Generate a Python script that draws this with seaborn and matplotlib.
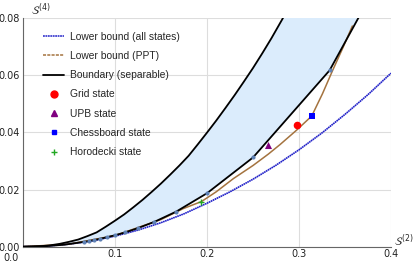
import numpy as np
import matplotlib
matplotlib.use("Agg")
import matplotlib.pyplot as plt
import matplotlib.transforms as mtrans
from matplotlib.lines import Line2D
import seaborn as sns

# upper boundary of the separable region
upper_x = [0.0, 0.01, 0.02, 0.03, 0.04, 0.05, 0.06, 0.07, 0.08, 0.09, 0.10, 0.11, 0.12, 0.13, 0.14,
           0.15, 0.16, 0.17, 0.18, 0.19, 0.20, 0.21, 0.22, 0.23, 0.24, 0.25, 0.26, 0.27, 0.2826]
upper_y = [0.0, 0.00005, 0.0002, 0.0005, 0.0010, 0.0017, 0.0025, 0.0037, 0.0050, 0.0070, 0.0091, 0.0113,
           0.0138, 0.0164, 0.0192, 0.0221, 0.0252, 0.0284, 0.0318, 0.0358, 0.0399, 0.0441, 0.0485,
           0.0530, 0.0577, 0.0625, 0.0676, 0.0729, 0.0800]

# lower boundary of the separable region
lower_x = [0.0, 0.025, 0.045, 0.0667, 0.0714, 0.0769, 0.0833, 0.0909, 0.1, 0.1111, 0.125,
           0.1429, 0.1667, 0.2, 0.25, 0.3333, 0.3645]
lower_y = [0.0, 0.0002, 0.0007, 0.0017, 0.0019, 0.0023, 0.0027, 0.0033, 0.0040, 0.0050, 0.0065,
           0.0087, 0.0123, 0.0187, 0.0312, 0.0617, 0.0800]

# points sitting on the lower boundary
dot_x = [0.0667, 0.0714, 0.0769, 0.0833, 0.0909, 0.1, 0.1111, 0.125, 0.1429, 0.1667, 0.2, 0.25, 0.3333]
dot_y = [0.0017, 0.0019, 0.0023, 0.0027, 0.0033, 0.0040, 0.0050, 0.0065, 0.0087, 0.0123, 0.0187, 0.0312, 0.0617]

# lower bound (all states)
all_x = [0.0, 0.025, 0.05, 0.075, 0.10, 0.125, 0.15, 0.175, 0.20, 0.225, 0.25, 0.275, 0.30,
         0.325, 0.35, 0.375, 0.40]
all_y = [0.0, 0.0002, 0.0009, 0.0020, 0.0037, 0.0058, 0.0084, 0.0115, 0.0152, 0.0192, 0.0236,
         0.0285, 0.0339, 0.0398, 0.0463, 0.0532, 0.0607]

# lower bound (PPT)
ppt_x = [0.0, 0.05, 0.10, 0.15, 0.174, 0.194, 0.21, 0.2286, 0.25, 0.2667, 0.2793, 0.2975,
         0.3138, 0.3255, 0.3366, 0.348, 0.358]
ppt_y = [0.0, 0.0009, 0.0039, 0.0095, 0.0133, 0.0158, 0.0192, 0.0238, 0.0284, 0.0324, 0.0357, 0.0408,
         0.0457, 0.0535, 0.0617, 0.0698, 0.0772]

# states
grid_pt = (0.2975, 0.0427)
upb_pt = (0.2667, 0.0357)
chess_pt = (0.3138, 0.0457)
horo_pt = (0.194, 0.0158)

BLUE = "#2020c8"
BROWN = "#a4733f"
FILL = "#dbecfc"
DOTS = "#5e81b5"

sns.set_style("white")
plt.rcParams["font.family"] = ["DejaVu Sans"]

fig = plt.figure(figsize=(4.15, 2.63), dpi=100)
ax = fig.add_axes([0.0554, 0.062, 0.8868, 0.8696])

ax.fill(np.concatenate([upper_x, lower_x[::-1]]), np.concatenate([upper_y, lower_y[::-1]]),
        color=FILL, lw=0, zorder=1)

sns.lineplot(x=all_x, y=all_y, sort=False, estimator=None, color=BLUE, lw=1.2,
             linestyle=(0, (1.0, 0.3)), ax=ax, zorder=3)
sns.lineplot(x=ppt_x, y=ppt_y, sort=False, estimator=None, color=BROWN, lw=1.1, ax=ax, zorder=3)
sns.lineplot(x=upper_x, y=upper_y, sort=False, estimator=None, color="black", lw=1.3, ax=ax, zorder=4)
sns.lineplot(x=lower_x, y=lower_y, sort=False, estimator=None, color="black", lw=1.3, ax=ax, zorder=4)
sns.scatterplot(x=dot_x, y=dot_y, color=DOTS, s=9, linewidth=0, ax=ax, zorder=5)

sns.scatterplot(x=[grid_pt[0]], y=[grid_pt[1]], color="red", marker="o", s=30, linewidth=0, ax=ax, zorder=6)
sns.scatterplot(x=[upb_pt[0]], y=[upb_pt[1]], color="purple", marker="^", s=26, linewidth=0, ax=ax, zorder=6)
sns.scatterplot(x=[chess_pt[0]], y=[chess_pt[1]], color="blue", marker="s", s=16, linewidth=0, ax=ax, zorder=6)
sns.scatterplot(x=[horo_pt[0]], y=[horo_pt[1]], color="#22a822", marker="+", s=22, linewidth=1.0, ax=ax, zorder=6)

ax.set_xlim(0, 0.4)
ax.set_ylim(0, 0.08)
ax.set_xticks([0.0, 0.1, 0.2, 0.3, 0.4])
ax.set_xticklabels(["0.0", "0.1", "0.2", "0.3", "0.4"])
ax.set_yticks([0.0, 0.02, 0.04, 0.06, 0.08])
ax.set_yticklabels(["0.00", "0.02", "0.04", "0.06", "0.08"])
ax.set_xticks(np.arange(0, 0.401, 0.02), minor=True)
ax.set_yticks(np.arange(0, 0.081, 0.005), minor=True)
ax.tick_params(axis="both", which="major", direction="in", length=4, width=0.7,
               colors="#666666", labelcolor="#222222", labelsize=7, pad=2)
ax.tick_params(axis="both", which="minor", direction="in", length=2, width=0.5, colors="#666666")
ax.grid(True, which="major", color="#dddddd", lw=0.8)
ax.set_axisbelow(True)
for side in ["top", "right"]:
    ax.spines[side].set_visible(False)
for side in ["left", "bottom"]:
    ax.spines[side].set_color("#666666")
    ax.spines[side].set_linewidth(0.8)

# origin label of x axis sits a bit to the left and lower, as in the original
lab0 = ax.get_xticklabels()[0]
lab0.set_transform(lab0.get_transform() + mtrans.ScaledTranslation(-0.12, -0.04, fig.dpi_scale_trans))

ax.text(0.047, 1.0, r"$\mathcal{S}^{(4)}$", transform=ax.transAxes, fontsize=8, ha="center", va="bottom")
ax.text(1.008, 0.025, r"$\mathcal{S}^{(2)}$", transform=ax.transAxes, fontsize=8, ha="left", va="center")

handles = [
    Line2D([], [], color=BLUE, lw=1.1, linestyle=(0, (1.2, 0.4))),
    Line2D([], [], color=BROWN, lw=1.1, linestyle=(0, (2, 0.8))),
    Line2D([], [], color="black", lw=1.3),
    Line2D([], [], color="red", marker="o", ms=5, lw=0),
    Line2D([], [], color="purple", marker="^", ms=4.5, lw=0),
    Line2D([], [], color="blue", marker="s", ms=3.5, lw=0),
    Line2D([], [], color="#22a822", marker="+", ms=5, lw=0, mew=1.0),
]
labels = ["Lower bound (all states)", "Lower bound (PPT)", "Boundary (separable)",
          "Grid state", "UPB state", "Chessboard state", "Horodecki state"]
ax.legend(handles, labels, loc="upper left", bbox_to_anchor=(0.055, 0.94), frameon=False,
          prop={"family": "Liberation Sans", "size": 7.4}, handlelength=2.0, handletextpad=0.6,
          labelspacing=0.9, borderpad=0, borderaxespad=0)

fig.savefig("out.png", dpi=100)
